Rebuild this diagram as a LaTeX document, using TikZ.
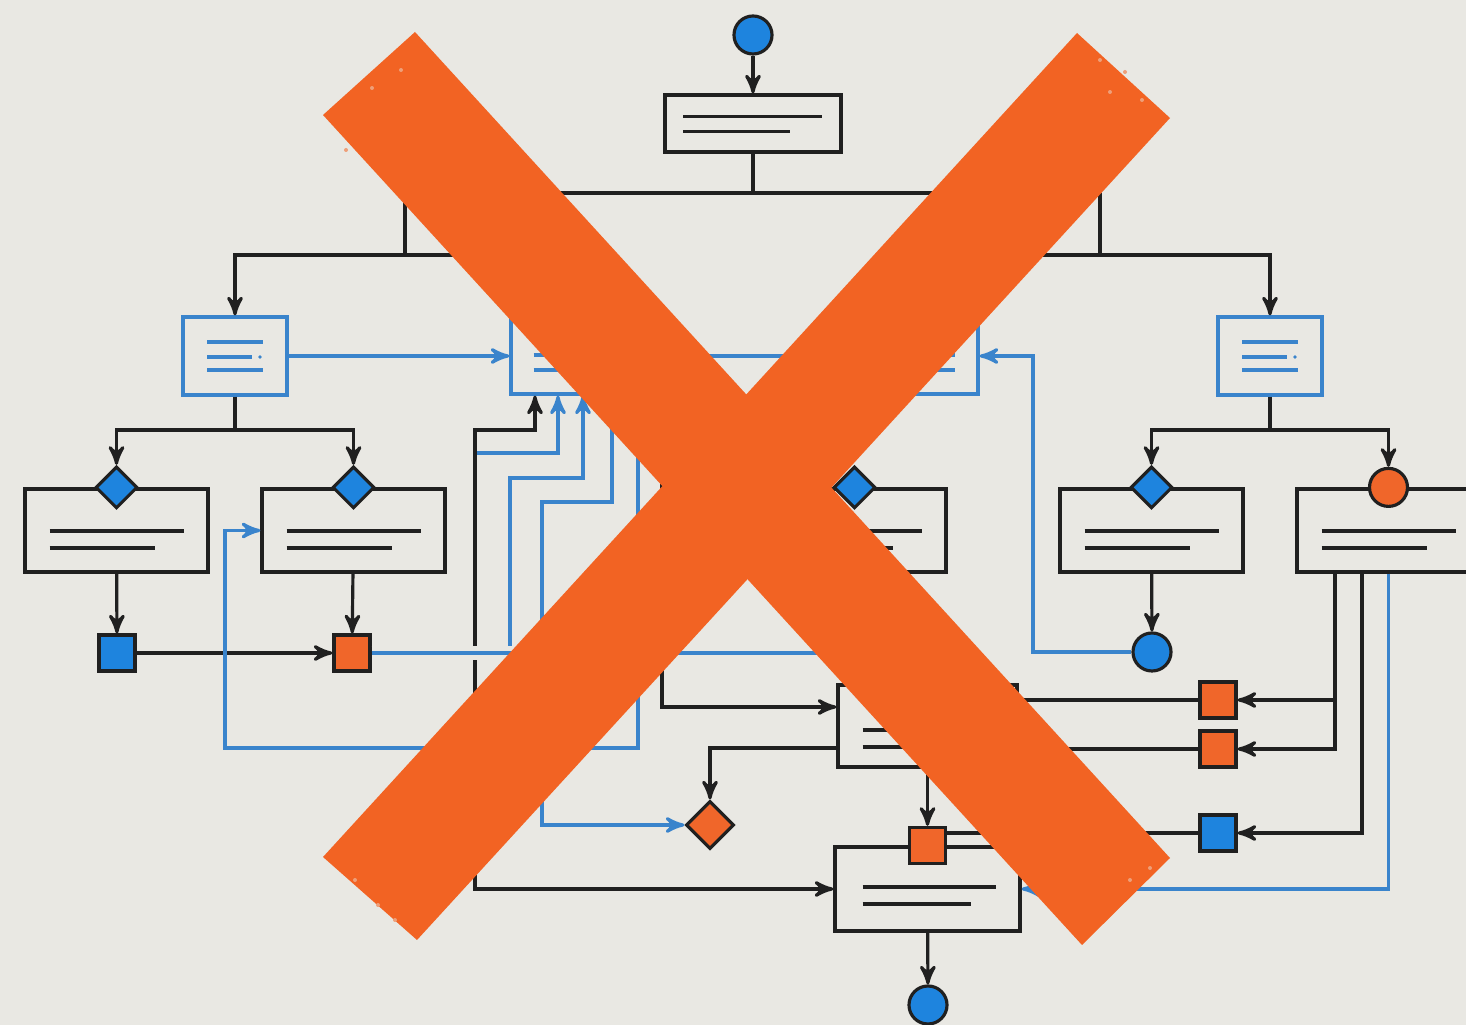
\documentclass[tikz,border=0pt]{standalone}
\usetikzlibrary{arrows,shapes.geometric}

\definecolor{paper}{RGB}{233,232,227}
\definecolor{ink}{RGB}{32,32,32}
\definecolor{flowblue}{RGB}{30,132,222}
\definecolor{lineblue}{RGB}{58,132,204}
\definecolor{tangerine}{RGB}{240,102,42}
\definecolor{flame}{RGB}{242,99,35}

\begin{document}
\begin{tikzpicture}[
    x = 0.01cm, y = -0.01cm,
    color = ink,
    line width = 0.9pt,
    >=stealth',
    procbox/.style = {
      draw,
      fill = paper,
      rectangle,
      inner sep = 0pt,
      minimum width = 1.83cm,
      minimum height = 0.83cm
    },
    bluebox/.style = {
      procbox,
      draw = lineblue,
      minimum width = 1.04cm,
      minimum height = 0.78cm
    },
    gem/.style = {
      draw = ink,
      diamond,
      aspect = 1,
      inner sep = 0pt,
      minimum size = 0.42cm
    },
    tile/.style = {
      draw = ink,
      rectangle,
      inner sep = 0pt,
      minimum size = 0.36cm
    },
    dot/.style = {
      draw = ink,
      circle,
      inner sep = 0pt,
      minimum size = 0.38cm
    },
    wire/.style = {lineblue},
    txt/.style = {line width = 1pt}
  ]
  \useasboundingbox (0,0) rectangle (1466,1025);
  \fill[paper] (0,0) rectangle (1466,1025);

  % nodes
  \node[dot, fill=flowblue] (start) at (753,35) {};
  \node[procbox, minimum width=1.76cm, minimum height=0.57cm] (top) at (753,123.5) {};

  \node[bluebox] (lb) at (235,356) {};
  \node[bluebox] (rb) at (1270,356) {};
  \node[bluebox, minimum width=1.59cm, minimum height=0.76cm] (mbl) at (590.5,356) {};
  \node[bluebox, minimum width=1.48cm, minimum height=0.76cm] (mbr) at (904,356) {};

  \node[procbox] (b1) at (116.5,530.5) {};
  \node[procbox] (b2) at (353.5,530.5) {};
  \node[procbox] (b4) at (854.5,530.5) {};
  \node[procbox] (b5) at (1151.5,530.5) {};
  \node[procbox] (b6) at (1388.5,530.5) {};
  \node[gem, fill=flowblue] (d1) at (b1.north) {};
  \node[gem, fill=flowblue] (d2) at (b2.north) {};
  \node[gem, fill=flowblue] (d4) at (b4.north) {};
  \node[gem, fill=flowblue] (d5) at (b5.north) {};
  \node[dot, fill=tangerine] (o6) at (b6.north) {};

  \node[tile, fill=flowblue] (q1) at (117,653) {};
  \node[tile, fill=tangerine] (q2) at (352,653) {};
  \node[dot, fill=flowblue] (c5) at (1152,652) {};

  \node[procbox, minimum width=1.79cm, minimum height=0.82cm] (lm) at (927.5,726) {};
  \node[gem, fill=tangerine, minimum size=0.48cm] (od) at (710,825) {};
  \node[procbox, minimum width=1.85cm, minimum height=0.84cm] (bt) at (927.5,889) {};
  \node[tile, fill=tangerine] (oq) at (bt.north) {};
  \node[dot, fill=flowblue] (stop) at (928,1005) {};

  \node[tile, fill=tangerine] (r1) at (1218,700) {};
  \node[tile, fill=tangerine] (r2) at (1218,749) {};
  \node[tile, fill=flowblue] (r3) at (1218,833) {};

  % text lines
  \draw[txt] (top.center) ++(-70,-7) -- ++(139,0);
  \draw[txt] (top.center) ++(-70,8) -- ++(107,0);
  \foreach \b in {lb,rb} {
    \draw[txt, lineblue] (\b.center) ++(-28,-14) -- ++(56,0);
    \draw[txt, lineblue] (\b.center) ++(-28,1) -- ++(45,0);
    \fill[lineblue] (\b.center) ++(25,1) circle (0.018cm);
    \draw[txt, lineblue] (\b.center) ++(-28,14) -- ++(56,0);
  }
  \draw[txt, lineblue] (mbl.center) ++(-57,-1) -- ++(114,0);
  \draw[txt, lineblue] (mbl.center) ++(-57,14) -- ++(66,0);
  \draw[txt, lineblue] (mbr.center) ++(-52,-1) -- ++(103,0);
  \draw[txt, lineblue] (mbr.center) ++(-24,14) -- ++(75,0);
  \foreach \b in {b1,b2,b4,b5,b6} {
    \draw[txt] (\b.center) ++(-67,0.5) -- ++(134,0);
    \draw[txt] (\b.center) ++(-67,17.5) -- ++(105,0);
  }
  \draw[txt] (lm.center) ++(-65,4) -- ++(134,0);
  \draw[txt] (lm.center) ++(-65,21) -- ++(105,0);
  \draw[txt] (bt.center) ++(-65,-2) -- ++(133,0);
  \draw[txt] (bt.center) ++(-65,15) -- ++(108,0);

  % black connectors
  \coordinate (jl) at (405,193);
  \coordinate (jr) at (1100,193);
  \draw[->] (start) -- (top);
  \draw (top) -- (top |- jl);
  \draw (jl) -- (jr);
  \draw[->] (jl) -- (405,255) -| (lb);
  \draw[->] (405,255) -| (mbl);
  \draw[->] (jr) -- (1100,255) -| (rb);
  \draw[->] (1100,255) -| (mbr);

  \draw (lb) -- (235,430);
  \draw[->] (235,430) -| (d1);
  \draw[->] (235,430) -| (d2);
  \draw (rb) -- (1270,430);
  \draw[->] (1270,430) -| (d5);
  \draw[->] (1270,430) -| (o6);

  \draw[->] (b1) -- (q1);
  \draw[->] (b2) -- (q2);
  \draw[->] (q1) -- (q2);
  \draw[->] (b5) -- (c5);

  \draw[<->] (bt.west) -| (475,430) -| ([xshift=-0.555cm]mbl.south);
  \draw[->] ([xshift=0.715cm]mbl.south) |- ([yshift=0.19cm]lm.west);
  \draw[->] ([yshift=-0.22cm]lm.west) -| (od);
  \draw[->] (lm) -- (oq);
  \draw[->] (bt) -- (stop);
  \draw[->] ([xshift=-0.535cm]b6.south) |- (r1);
  \draw[->] ([xshift=-0.535cm]b6.south) |- (r2);
  \draw[->] ([xshift=-0.265cm]b6.south) |- (r3);
  \draw (r1) -- (r1 -| lm.east);
  \draw (r2) -- (r2 -| lm.east);
  \draw (r3) -- (r3 -| oq.east);

  % blue connectors
  \coordinate (bus) at (900,653);
  \coordinate (cr) at (1033,356);
  \draw[wire, ->] (lb) -- (mbl);
  \draw[wire] (mbl) -- (mbr);
  \draw[wire, ->] (c5) -| (cr) -- (mbr);
  \draw[wire, <-] ([xshift=-0.325cm]mbl.south) |- (477,453);
  \draw[wire, <-] ([xshift=-0.075cm]mbl.south) |- (510,478) -- (510,653);
  \draw[wire, <->] ([xshift=0.215cm]mbl.south) |- (542,502) |- (od);
  \draw[wire, ->] ([xshift=0.475cm]mbl.south) |- (225,748) |- (b2);
  \draw[wire, ->] (b6.south) |- (bt.east);
  \draw[wire, preaction={draw=paper, line width=4pt}] (q2) -- (bus);

  % the cross
  \fill[flame] (323,115) -- (415,32) -- (1170,858) -- (1082,945) -- cycle;
  \fill[flame] (1077,33) -- (1170,118) -- (417,940) -- (323,857) -- cycle;
  \foreach \p in {(372,88),(401,70),(346,150),(1100,60),(1125,72),(1142,100),
                  (1110,92),(355,880),(378,905),(395,920),(1130,880),(1150,868)}
    \fill[flame!55!paper] \p circle (0.02cm);

\end{tikzpicture}
\end{document}
